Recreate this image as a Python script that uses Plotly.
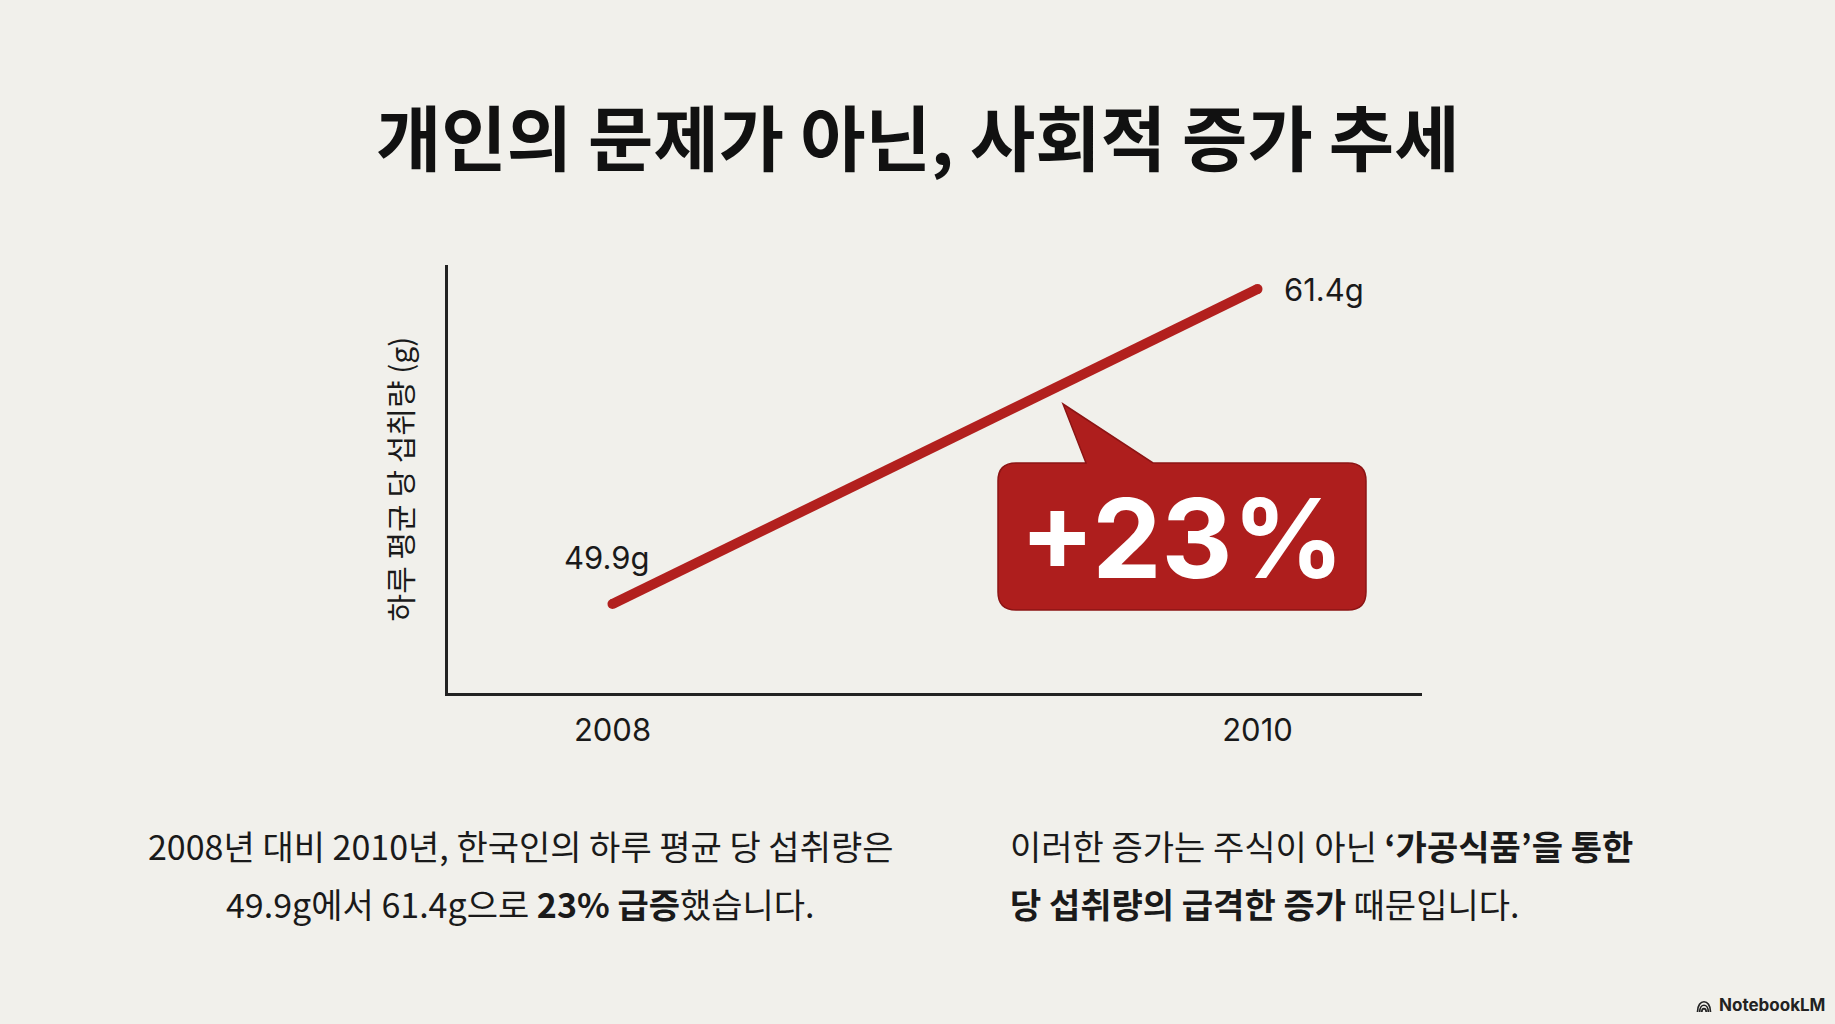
import plotly.graph_objects as go

# chart data
years = [2008, 2010]
sugar_g = [49.9, 61.4]
value_labels = ["49.9g", "61.4g"]
increase_label = "+23%"

W, H = 1835, 1024
BG = "#F1F0EB"
RED = "#B2201E"
INK = "#1A1A1A"
KR = "Noto Sans CJK KR"
LATIN = "Inter, Noto Sans CJK KR"


def px(x, y):
    # pixel position -> paper coords (margins are zero)
    return x / W, 1 - y / H


def callout_path(x0, y0, x1, y1, r, tip, base_l, base_r):
    pts = []

    def p(x, y):
        a, b = px(x, y)
        return f"{a:.5f},{b:.5f}"

    pts.append("M " + p(x0 + r, y0))
    pts.append("L " + p(base_l, y0))
    pts.append("L " + p(*tip))
    pts.append("L " + p(base_r, y0))
    pts.append("L " + p(x1 - r, y0))
    pts.append("Q " + p(x1, y0) + " " + p(x1, y0 + r))
    pts.append("L " + p(x1, y1 - r))
    pts.append("Q " + p(x1, y1) + " " + p(x1 - r, y1))
    pts.append("L " + p(x0 + r, y1))
    pts.append("Q " + p(x0, y1) + " " + p(x0, y1 - r))
    pts.append("L " + p(x0, y0 + r))
    pts.append("Q " + p(x0, y0) + " " + p(x0 + r, y0))
    pts.append("Z")
    return " ".join(pts)


def note(x, y, text, font, xanchor="center"):
    ax, ay = px(x, y)
    fig.add_annotation(x=ax, y=ay, xref="paper", yref="paper", text=text,
                       showarrow=False, xanchor=xanchor, yanchor="middle", font=font)


fig = go.Figure()

fig.add_trace(go.Scatter(
    x=years, y=sugar_g, mode="lines+markers",
    line=dict(color=RED, width=10),
    marker=dict(color=RED, size=10),
    hoverinfo="skip", showlegend=False,
))

# value labels next to the points
fig.add_annotation(x=years[0], y=sugar_g[0], xref="x", yref="y", text=value_labels[0],
                   showarrow=False, xanchor="center", yanchor="middle", yshift=47, xshift=-6,
                   font=dict(family=LATIN, size=31, color=INK))
fig.add_annotation(x=years[1], y=sugar_g[1], xref="x", yref="y", text=value_labels[1],
                   showarrow=False, xanchor="left", yanchor="middle", xshift=24,
                   font=dict(family=LATIN, size=31, color=INK))

# callout bubble
fig.add_shape(type="path", xref="paper", yref="paper",
              path=callout_path(998, 463, 1366, 610, 18, (1063, 404), 1086, 1153),
              fillcolor="#AE1E1D", line=dict(color="#8C1414", width=1.5), layer="above")
note(1182, 538, f"<b>{increase_label}</b>", dict(family="Inter", size=110, color="white"))

# title
note(917, 134, "<b>개인의 문제가 아닌, 사회적 증가 추세</b>",
     dict(family=KR, size=71, color="#111111"))

# bottom paragraphs
para = dict(family=KR, size=34, color=INK)
note(520, 845, "2008년 대비 2010년, 한국인의 하루 평균 당 섭취량은", para)
note(520, 903, "49.9g에서 61.4g으로 <b>23% 급증</b>했습니다.", para)
note(1008, 845, "이러한 증가는 주식이 아닌 <b>‘가공식품’을 통한</b>", para, xanchor="left")
note(1008, 903, "<b>당 섭취량의 급격한 증가</b> 때문입니다.", para, xanchor="left")

# NotebookLM badge
note(1717, 1005, "<b>NotebookLM</b>", dict(family="Inter", size=17, color="#222222"), xanchor="left")
for r in (6.5, 4.3, 2.2):
    ax0, ay0 = px(1704 - r, 1012)
    ax1, ay1 = px(1704 + r, 1012)
    apx, apy = px(1704 - r, 1012 - r * 2.1)
    bpx, bpy = px(1704 + r, 1012 - r * 2.1)
    fig.add_shape(type="path", xref="paper", yref="paper",
                  path=f"M {ax0:.5f},{ay0:.5f} C {apx:.5f},{apy:.5f} {bpx:.5f},{bpy:.5f} {ax1:.5f},{ay1:.5f}",
                  line=dict(color="#222222", width=1.7))

fig.update_xaxes(
    domain=[448 / W, 1422 / W], range=[2007.49, 2010.51],
    showline=True, linecolor="#222222", linewidth=3, mirror=False,
    showgrid=False, zeroline=False,
    tickvals=years, ticktext=[str(v) for v in years],
    ticks="outside", ticklen=8, tickcolor="rgba(0,0,0,0)",
    tickfont=dict(family=LATIN, size=31, color=INK),
)
fig.update_yaxes(
    domain=[1 - 693 / H, 1 - 265 / H], range=[46.65, 62.28],
    showline=True, linecolor="#222222", linewidth=3,
    showgrid=False, zeroline=False, showticklabels=False, ticks="",
    title=dict(text="하루 평균 당 섭취량 (g)", standoff=24,
               font=dict(family=KR, size=30, color=INK)),
)

fig.update_layout(
    width=W, height=H,
    margin=dict(l=0, r=0, t=0, b=0),
    paper_bgcolor=BG, plot_bgcolor=BG,
    showlegend=False,
)

fig.write_html("out.html", config={"displayModeBar": False},
               post_script="document.body.style.margin='0';document.body.style.overflow='hidden';")
